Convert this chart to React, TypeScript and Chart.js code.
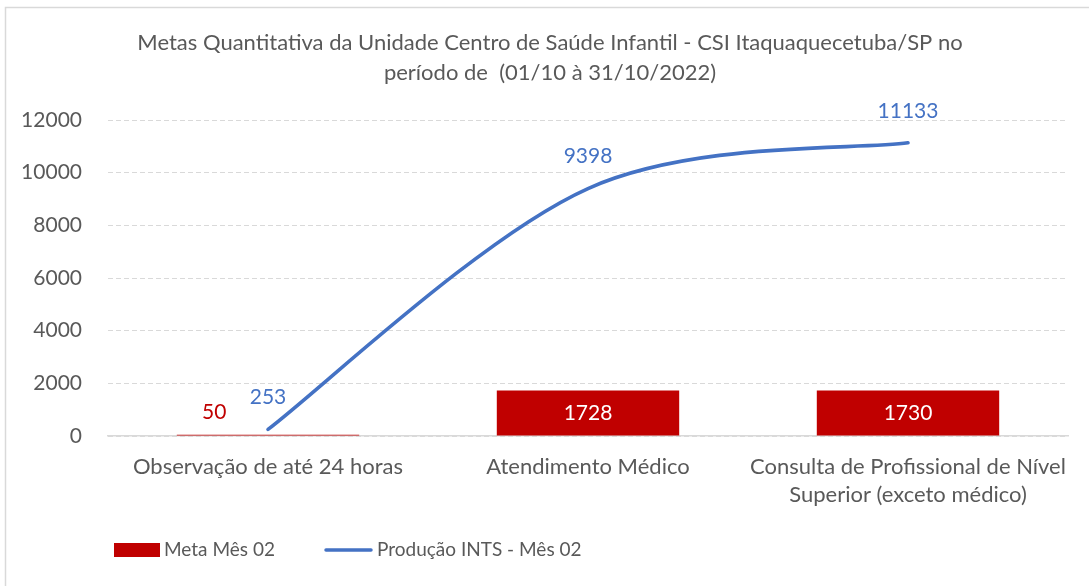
import { useEffect, useRef } from "react";
import { Chart, registerables } from "chart.js";

Chart.register(...registerables);

const categories: string[][] = [
  ["Observação de até 24 horas"],
  ["Atendimento Médico"],
  ["Consulta de Profissional de Nível", "Superior (exceto médico)"],
];
const metaValues = [50, 1728, 1730];
const producaoValues = [253, 9398, 11133];
const titleLines = [
  "Metas Quantitativa da Unidade Centro de Saúde Infantil - CSI Itaquaquecetuba/SP no",
  "período de  (01/10 à 31/10/2022)",
];
const metaLabel = "Meta Mês 02";
const producaoLabel = "Produção INTS - Mês 02";
const yMin = 0;
const yMax = 12000;
const yStep = 2000;

const FONT = "Lato, 'Open Sans', sans-serif";
const GREY_TEXT = "#595959";
const RED = "#C00000";
const BLUE = "#4472C4";
const GRID = "#D9D9D9";

// Excel-like smoothing (Catmull-Rom style control points, endpoints duplicated)
const smoothPlugin = {
  id: "excelSmooth",
  beforeDatasetDraw(chart: any, args: any) {
    const meta = args.meta;
    if (meta.type !== "line" || !meta.dataset) return;
    const pts = meta.data;
    const n = pts.length;
    pts.forEach((p: any, i: number) => {
      const prev = pts[Math.max(0, i - 1)];
      const next = pts[Math.min(n - 1, i + 1)];
      const dx = (next.x - prev.x) / 6;
      const dy = (next.y - prev.y) / 6;
      p.cp1x = p.x - dx;
      p.cp1y = p.y - dy;
      p.cp2x = p.x + dx;
      p.cp2y = p.y + dy;
    });
    meta.dataset._pointsUpdated = true;
  },
};

const decorPlugin = {
  id: "decor",
  beforeDraw(chart: any) {
    const ctx = chart.ctx;
    ctx.save();
    ctx.fillStyle = "#ffffff";
    ctx.fillRect(0, 0, chart.width, chart.height);
    // outer frame
    ctx.strokeStyle = GRID;
    ctx.lineWidth = 1.5;
    ctx.beginPath();
    ctx.moveTo(5.5, chart.height);
    ctx.lineTo(5.5, 7.5);
    ctx.lineTo(chart.width, 7.5);
    ctx.stroke();
    // title
    ctx.fillStyle = GREY_TEXT;
    ctx.font = `22px ${FONT}`;
    ctx.textAlign = "center";
    ctx.textBaseline = "middle";
    titleLines.forEach((t, i) => ctx.fillText(t, 550, 43 + i * 30));
    // legend
    ctx.font = `19px ${FONT}`;
    ctx.textAlign = "left";
    ctx.fillStyle = RED;
    ctx.fillRect(114, 543, 46, 14);
    ctx.fillStyle = GREY_TEXT;
    ctx.fillText(metaLabel, 164, 550);
    ctx.strokeStyle = BLUE;
    ctx.lineWidth = 3.5;
    ctx.lineCap = "round";
    ctx.beginPath();
    ctx.moveTo(326, 550);
    ctx.lineTo(371, 550);
    ctx.stroke();
    ctx.fillText(producaoLabel, 377, 550);
    ctx.restore();
  },
  afterDatasetsDraw(chart: any) {
    const ctx = chart.ctx;
    ctx.save();
    ctx.font = `21px ${FONT}`;
    ctx.textAlign = "center";
    ctx.textBaseline = "middle";
    const barMeta = chart.getDatasetMeta(1);
    barMeta.data.forEach((el: any, i: number) => {
      const h = el.base - el.y;
      const txt = String(metaValues[i]);
      if (h > 26) {
        ctx.fillStyle = "#ffffff";
        ctx.fillText(txt, el.x, (el.y + el.base) / 2);
      } else {
        ctx.fillStyle = RED;
        ctx.fillText(txt, el.x - el.width * 0.295, el.base - 23);
      }
    });
    const lineMeta = chart.getDatasetMeta(0);
    ctx.fillStyle = BLUE;
    lineMeta.data.forEach((el: any, i: number) => {
      ctx.fillText(String(producaoValues[i]), el.x, el.y - 32);
    });
    ctx.restore();
  },
};

export default function App() {
  const ref = useRef<HTMLCanvasElement | null>(null);
  useEffect(() => {
    if (!ref.current) return;
    const chart = new Chart(ref.current, {
      type: "bar",
      data: {
        labels: categories as any,
        datasets: [
          {
            type: "line",
            label: producaoLabel,
            data: producaoValues,
            borderColor: BLUE,
            backgroundColor: BLUE,
            borderWidth: 3.6,
            borderCapStyle: "round",
            pointRadius: 0,
            tension: 0.3,
            fill: false,
            order: 1,
          } as any,
          {
            type: "bar",
            label: metaLabel,
            data: metaValues,
            backgroundColor: RED,
            borderWidth: 0,
            categoryPercentage: 1,
            barPercentage: 0.57,
            order: 2,
          } as any,
        ],
      },
      options: {
        animation: false,
        responsive: false,
        devicePixelRatio: 1,
        layout: { padding: { left: 0, right: 21, top: 120, bottom: 0 } },
        plugins: {
          legend: { display: false },
          title: { display: false },
          tooltip: { enabled: false },
        },
        scales: {
          x: {
            grid: { display: false, drawTicks: false },
            border: { display: true, color: GRID, width: 1.5 },
            ticks: {
              color: GREY_TEXT,
              font: { family: FONT, size: 22, lineHeight: "28px" } as any,
              padding: 17,
              maxRotation: 0,
              autoSkip: false,
            },
            afterFit(s: any) {
              s.height = 150;
            },
          },
          y: {
            min: yMin,
            max: yMax,
            ticks: {
              stepSize: yStep,
              color: GREY_TEXT,
              font: { family: FONT, size: 21 },
              padding: 26,
              callback: (v: any) => String(v),
            },
            grid: { color: GRID, lineWidth: 1, drawTicks: false },
            border: { display: false, dash: [5, 3] },
            afterFit(s: any) {
              s.width = 108;
            },
          },
        },
      },
      plugins: [smoothPlugin, decorPlugin],
    });
    return () => chart.destroy();
  }, []);
  return (
    <div style={{ position: "absolute", left: 0, top: 0, width: 1089, height: 586 }}>
      <canvas ref={ref} width={1089} height={586} style={{ width: 1089, height: 586, display: "block" }} />
    </div>
  );
}
